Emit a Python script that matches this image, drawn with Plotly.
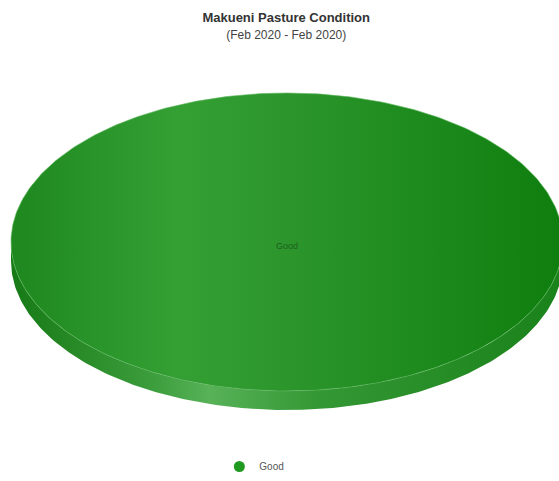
import numpy as np
import plotly.graph_objects as go

# Pasture condition shares for Makueni
categories = ["Good"]
values = [100]

title_text = "Makueni Pasture Condition"
subtitle_text = "(Feb 2020 - Feb 2020)"

W, H = 559, 481
# pie geometry in pixel units (3D tilted disc)
cx, cy = 287, 242
rx, ry = 276, 149
depth = 19

FONT = "Liberation Sans Narrow, Arial Narrow, Liberation Sans, sans-serif"

fig = go.Figure()

total = float(sum(values))
start = -np.pi / 2
for cat, val in zip(categories, values):
    frac = val / total
    a0, a1 = start, start + frac * 2 * np.pi
    t = np.linspace(a0, a1, 361)

    # front side wall: visible part of the rim between 0 and pi
    lo, hi = max(a0, 0.0), min(a1, np.pi)
    if frac >= 1:
        lo, hi = 0.0, np.pi
    if hi > lo:
        s = np.linspace(lo, hi, 200)
        ex = cx + rx * np.cos(s)
        ey = cy + ry * np.sin(s)
        sx = np.concatenate([ex, ex[::-1]])
        sy = np.concatenate([ey, ey[::-1] + depth])
        fig.add_trace(go.Scatter(
            x=sx, y=sy, mode="lines", line=dict(width=0),
            fill="toself",
            fillgradient=dict(type="horizontal", colorscale=[
                [0.0, "#167a16"], [0.25, "#3a9c3a"], [0.36, "#58b258"],
                [0.55, "#349834"], [1.0, "#1a821a"]]),
            hoverinfo="skip", showlegend=False))

    # top face
    if frac >= 1:
        px = cx + rx * np.cos(t)
        py = cy + ry * np.sin(t)
    else:
        px = np.concatenate([[cx], cx + rx * np.cos(t), [cx]])
        py = np.concatenate([[cy], cy + ry * np.sin(t), [cy]])
    fig.add_trace(go.Scatter(
        x=px, y=py, mode="lines", line=dict(width=0.6, color="#62b862"),
        fill="toself",
        fillgradient=dict(type="horizontal", colorscale=[
            [0.0, "#1e881e"], [0.3, "#34a034"], [0.5, "#2c962c"],
            [1.0, "#0e7e0e"]]),
        name=cat, hoverinfo="name", showlegend=False))

    # data label at slice centre
    mid = (a0 + a1) / 2
    lx = cx if frac >= 1 else cx + 0.6 * rx * np.cos(mid)
    ly = cy + 4 if frac >= 1 else cy + 0.6 * ry * np.sin(mid)
    fig.add_annotation(x=lx, y=ly, text=cat, showarrow=False,
                       font=dict(size=9, color="#1f5f1f", family=FONT))

    # legend entry
    fig.add_trace(go.Scatter(
        x=[None], y=[None], mode="markers", name=cat,
        marker=dict(symbol="circle", size=11, color="#1f9a1f")))

fig.update_layout(
    width=W, height=H,
    margin=dict(l=0, r=0, t=0, b=0),
    paper_bgcolor="white", plot_bgcolor="white",
    xaxis=dict(range=[0, W], visible=False, fixedrange=True),
    yaxis=dict(range=[H, 0], visible=False, fixedrange=True),
    showlegend=True,
    legend=dict(orientation="h", x=0.455, xanchor="center", y=0.0, yanchor="bottom",
                font=dict(size=10, color="#555555", family=FONT),
                itemwidth=30),
    title=dict(
        text=f"<b>{title_text}</b><br><span style='font-size:12px;color:#444'>{subtitle_text}</span>",
        x=0.512, xanchor="center", y=0.955, yanchor="top",
        font=dict(size=13, color="#333333", family=FONT)),
)

fig.write_html("out.html")
